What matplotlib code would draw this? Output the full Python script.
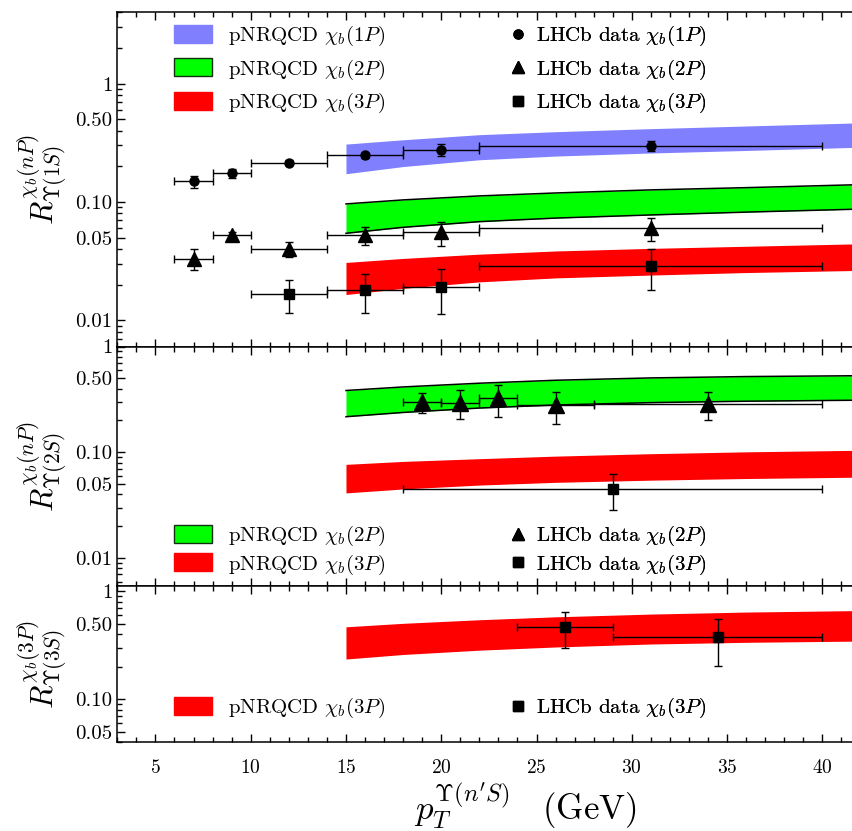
import numpy as np
import matplotlib
matplotlib.use("Agg")
import matplotlib.pyplot as plt
from matplotlib.patches import Patch
from matplotlib.lines import Line2D
from matplotlib.ticker import FixedLocator, FixedFormatter, LogLocator, MultipleLocator, NullFormatter

plt.rcParams['font.family'] = 'serif'
plt.rcParams['font.serif'] = ['cmr10']
plt.rcParams['mathtext.fontset'] = 'cm'
plt.rcParams['axes.unicode_minus'] = False
plt.rcParams['axes.formatter.use_mathtext'] = True

# ---- LHCb data, Upsilon(1S) panel
x_1s_1p = [7, 9, 12, 16, 20, 31]
xlo_1s_1p = [6, 8, 10, 14, 18, 22]
xhi_1s_1p = [8, 10, 14, 18, 22, 40]
r_1s_1p = [0.149, 0.174, 0.214, 0.247, 0.276, 0.298]
e_1s_1p = [0.018, 0.016, 0.010, 0.012, 0.030, 0.028]

x_1s_2p = [7, 9, 12, 16, 20, 31]
xlo_1s_2p = [6, 8, 10, 14, 18, 22]
xhi_1s_2p = [8, 10, 14, 18, 22, 40]
r_1s_2p = [0.0332, 0.0522, 0.040, 0.0522, 0.0553, 0.0602]
e_1s_2p = [0.0065, 0.004, 0.0058, 0.0087, 0.013, 0.0135]

x_1s_3p = [12, 16, 20, 31]
xlo_1s_3p = [10, 14, 18, 22]
xhi_1s_3p = [14, 18, 22, 40]
r_1s_3p = [0.0168, 0.0180, 0.0191, 0.0289]
e_1s_3p = [0.0052, 0.0064, 0.0078, 0.0108]

# ---- LHCb data, Upsilon(2S) panel
x_2s_2p = [19, 21, 23, 26, 34]
xlo_2s_2p = [18, 20, 22, 24, 28]
xhi_2s_2p = [20, 22, 24, 28, 40]
r_2s_2p = [0.30, 0.295, 0.325, 0.28, 0.285]
e_2s_2p = [0.067, 0.09, 0.11, 0.093, 0.083]

x_2s_3p = [29]
xlo_2s_3p = [18]
xhi_2s_3p = [40]
r_2s_3p = [0.0451]
e_2s_3p = [0.0166]

# ---- LHCb data, Upsilon(3S) panel
x_3s_3p = [26.5, 34.5]
xlo_3s_3p = [24, 29]
xhi_3s_3p = [29, 40]
r_3s_3p = [0.469, 0.380]
e_3s_3p = [0.171, 0.178]

pt_band = [15, 18, 22, 26, 31, 36, 42]
b1s_1p_hi = [0.308, 0.335, 0.370, 0.392, 0.416, 0.438, 0.466]
b1s_1p_lo = [0.173, 0.199, 0.227, 0.244, 0.259, 0.272, 0.290]
b1s_2p_hi = [0.0962, 0.104, 0.1124, 0.119, 0.1264, 0.132, 0.140]
b1s_2p_lo = [0.0543, 0.061, 0.0681, 0.073, 0.0776, 0.082, 0.087]
b1s_3p_hi = [0.0308, 0.0333, 0.0362, 0.0385, 0.0405, 0.0422, 0.0443]
b1s_3p_lo = [0.0165, 0.0186, 0.0211, 0.0228, 0.0241, 0.0253, 0.0264]

b2s_2p_hi = [0.384, 0.415, 0.45, 0.48, 0.505, 0.52, 0.53]
b2s_2p_lo = [0.217, 0.238, 0.262, 0.280, 0.295, 0.304, 0.311]
b2s_3p_hi = [0.0769, 0.082, 0.087, 0.092, 0.097, 0.101, 0.1045]
b2s_3p_lo = [0.0413, 0.045, 0.049, 0.052, 0.0545, 0.0565, 0.0582]

b3s_3p_hi = [0.469, 0.505, 0.545, 0.58, 0.615, 0.642, 0.663]
b3s_3p_lo = [0.236, 0.260, 0.285, 0.305, 0.325, 0.337, 0.346]

BLUE = '#8080ff'
GREEN = '#00ff00'
RED = '#ff0000'

fig = plt.figure(figsize=(8.53, 8.31), dpi=100)
L, W = 0.1375, 0.8655
ax1 = fig.add_axes([L, 0.583, W, 0.4022])
ax2 = fig.add_axes([L, 0.2954, W, 0.2876])
ax3 = fig.add_axes([L, 0.1067, W, 0.1887])


def band(ax, lo, hi, color, edge=False):
    ax.fill_between(pt_band, lo, hi, color=color, lw=0, zorder=1)
    if edge:
        ax.plot(pt_band, hi, color='k', lw=1.1, zorder=2)
        ax.plot(pt_band, lo, color='k', lw=1.1, zorder=2)


def data(ax, x, xlo, xhi, y, e, marker, ms):
    xerr = [np.array(x) - np.array(xlo), np.array(xhi) - np.array(x)]
    ax.errorbar(x, y, xerr=xerr, yerr=e, fmt=marker, color='k', ms=ms,
                elinewidth=1.0, capsize=3, capthick=1.0, zorder=3)


band(ax1, b1s_1p_lo, b1s_1p_hi, BLUE)
band(ax1, b1s_2p_lo, b1s_2p_hi, GREEN, edge=True)
band(ax1, b1s_3p_lo, b1s_3p_hi, RED)
data(ax1, x_1s_1p, xlo_1s_1p, xhi_1s_1p, r_1s_1p, e_1s_1p, 'o', 6.5)
data(ax1, x_1s_2p, xlo_1s_2p, xhi_1s_2p, r_1s_2p, e_1s_2p, '^', 9.5)
data(ax1, x_1s_3p, xlo_1s_3p, xhi_1s_3p, r_1s_3p, e_1s_3p, 's', 7.5)

band(ax2, b2s_2p_lo, b2s_2p_hi, GREEN, edge=True)
band(ax2, b2s_3p_lo, b2s_3p_hi, RED)
data(ax2, x_2s_2p, xlo_2s_2p, xhi_2s_2p, r_2s_2p, e_2s_2p, '^', 11)
data(ax2, x_2s_3p, xlo_2s_3p, xhi_2s_3p, r_2s_3p, e_2s_3p, 's', 7.5)

band(ax3, b3s_3p_lo, b3s_3p_hi, RED)
data(ax3, x_3s_3p, xlo_3s_3p, xhi_3s_3p, r_3s_3p, e_3s_3p, 's', 7.5)

ylims = [(0.006, 4.0), (0.0055, 1.0), (0.04, 1.13)]
yticks = [[0.01, 0.05, 0.1, 0.5, 1], [0.01, 0.05, 0.1, 0.5, 1], [0.05, 0.1, 0.5, 1]]
ylabs = [[r'0.01', r'0.05', r'0.10', r'0.50', r'1'],
         [r'0.01', r'0.05', r'0.10', r'0.50', r'1'],
         [r'0.05', r'0.10', r'0.50', r'1']]

for ax, yl, yt, lab in zip([ax1, ax2, ax3], ylims, yticks, ylabs):
    ax.set_yscale('log')
    ax.set_xlim(3, 41.74)
    ax.set_ylim(*yl)
    ax.yaxis.set_major_locator(FixedLocator(yt))
    ax.yaxis.set_major_formatter(FixedFormatter(lab))
    ax.yaxis.set_minor_locator(LogLocator(base=10, subs=np.arange(2, 10)))
    ax.yaxis.set_minor_formatter(NullFormatter())
    ax.xaxis.set_major_locator(MultipleLocator(5))
    ax.xaxis.set_minor_locator(MultipleLocator(1))
    ax.tick_params(which='both', direction='in', top=True, right=False, width=1.0)
    ax.tick_params(which='major', length=6, labelsize=15)
    ax.tick_params(which='minor', length=3.5)
    for s in ax.spines.values():
        s.set_linewidth(1.1)

ax1.tick_params(labelbottom=False)
ax2.tick_params(labelbottom=False)
ax3.tick_params(axis='x', labelsize=14, pad=12)

# legends
fs = 15


def band_legend(ax, items, top, spacing):
    h = []
    for c, lab, edge in items:
        h.append(Patch(facecolor=c, edgecolor='#103010' if edge else c, lw=1.0, label=lab))
    leg = ax.legend(handles=h, loc='upper left', bbox_to_anchor=(0.0768, top),
                    frameon=False, fontsize=fs, handlelength=1.83, handleheight=0.96,
                    handletextpad=0.77, labelspacing=spacing, borderpad=0, borderaxespad=0)
    ax.add_artist(leg)


def data_legend(ax, items, top, spacing):
    h = []
    for m, ms, lab in items:
        h.append(Line2D([], [], marker=m, ms=ms, color='k', ls='none', label=lab))
    leg = ax.legend(handles=h, loc='upper left', bbox_to_anchor=(0.529, top),
                    frameon=False, fontsize=fs, handlelength=1.0, numpoints=1,
                    handletextpad=0.35, labelspacing=spacing, borderpad=0, borderaxespad=0)
    ax.add_artist(leg)


band_legend(ax1, [(BLUE, r'pNRQCD $\chi_b(1P)$', False),
                  (GREEN, r'pNRQCD $\chi_b(2P)$', True),
                  (RED, r'pNRQCD $\chi_b(3P)$', False)], 0.965, 0.45)
data_legend(ax1, [('o', 6.5, r'LHCb data $\chi_b(1P)$'),
                  ('^', 8.5, r'LHCb data $\chi_b(2P)$'),
                  ('s', 7, r'LHCb data $\chi_b(3P)$')], 0.965, 0.45)

band_legend(ax2, [(GREEN, r'pNRQCD $\chi_b(2P)$', True),
                  (RED, r'pNRQCD $\chi_b(3P)$', False)], 0.257, 0.2)
data_legend(ax2, [('^', 8.5, r'LHCb data $\chi_b(2P)$'),
                  ('s', 7, r'LHCb data $\chi_b(3P)$')], 0.257, 0.2)

band_legend(ax3, [(RED, r'pNRQCD $\chi_b(3P)$', False)], 0.295, 0.2)
data_legend(ax3, [('s', 7, r'LHCb data $\chi_b(3P)$')], 0.295, 0.2)

# axis labels
fig.text(42 / 853, 1 - 179.4 / 831, r'$R^{\chi_b(nP)}_{\Upsilon(1S)}$', rotation=90,
         ha='center', va='center', fontsize=22)
fig.text(42 / 853, 1 - 466 / 831, r'$R^{\chi_b(nP)}_{\Upsilon(2S)}$', rotation=90,
         ha='center', va='center', fontsize=22)
fig.text(42 / 853, 1 - 664 / 831, r'$R^{\chi_b(3P)}_{\Upsilon(3S)}$', rotation=90,
         ha='center', va='center', fontsize=22)
fig.text(0.616, 0.014, r'$p_T^{\Upsilon(n^\prime S)}\quad\mathrm{(GeV)}$',
         ha='center', va='baseline', fontsize=25)

fig.savefig('out.png', dpi=100)
